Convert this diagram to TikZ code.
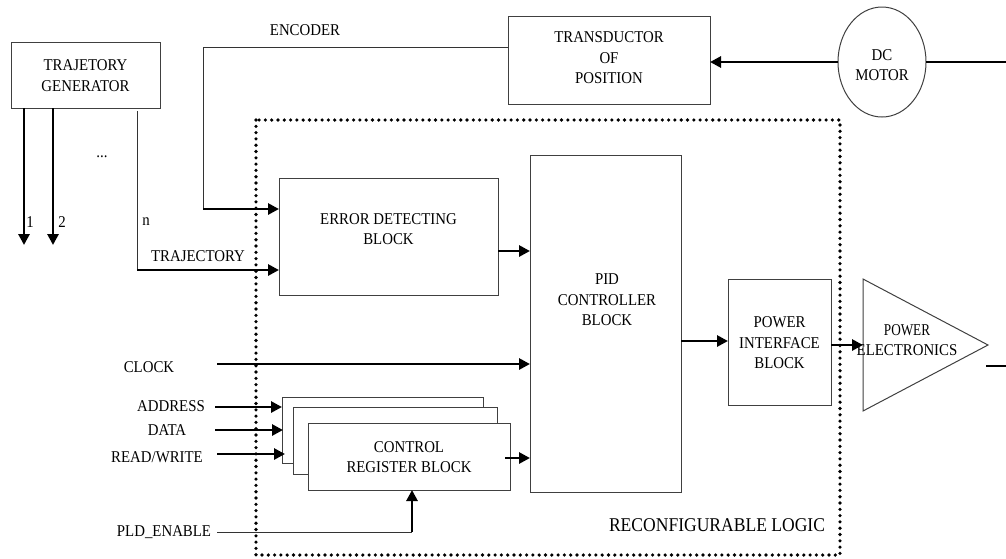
\documentclass[tikz,border=0pt]{standalone}
\usepackage{fontspec}
\setmainfont[FakeStretch=0.9]{Liberation Serif}
\newfontfamily\narrowfont[FakeStretch=0.8]{Liberation Serif}
\usetikzlibrary{arrows.meta}
\begin{document}
\begin{tikzpicture}[x=1pt,y=-1pt,
  every node/.style={font=\fontsize{16.5}{20.5}\selectfont, align=center, inner sep=0pt},
  blk/.style={draw=black!75, line width=1pt, fill=white},
  thin/.style={draw=black!80, line width=0.9pt},
  arr/.style={draw=black, line width=2.8pt, -{Triangle[length=11pt,width=11pt]}},
  thick/.style={draw=black, line width=2.8pt},
  lbl/.style={}
]
\useasboundingbox (0,0) rectangle (1006,558);

% dotted reconfigurable logic region
\draw[line width=3.6pt, line cap=round, dash pattern=on 0pt off 6.3pt] (256,120) rectangle (840,555);
\node[lbl, font=\fontsize{19.5}{22}\selectfont] (reclbl) at (717,525) {RECONFIGURABLE LOGIC};

% trajectory generator
\draw[blk] (11,42) rectangle (160,108);
\node (tg) at (85.5,75.5) {TRAJETORY\\GENERATOR};
\coordinate (tg1) at (24,108);
\coordinate (tg1e) at (24,245);
\coordinate (tg2) at (53,108);
\coordinate (tg2e) at (53,245);
\draw[arr] (tg1) -- (tg1e);
\draw[arr] (tg2) -- (tg2e);
\node (l1) at (30,222) {1};
\node (l2) at (62,222) {2};
\node (dots) at (102,157) {...};
\node (ln) at (146,222) {n};

% transductor
\draw[blk] (508,16) rectangle (710,104);
\node (tr) at (609,58) {\fontsize{16.5}{20}\selectfont TRANSDUCTOR\\OF\\POSITION};
\coordinate (trW) at (508,47);
\coordinate (trE) at (710,62);

% DC motor
\draw[blk] (882,62) ellipse [x radius=44, y radius=55];
\node (dc) at (882,65) {\fontsize{16.5}{17}\selectfont DC\\MOTOR};
\coordinate (dcW) at (838,62);
\coordinate (dcE) at (926,62);
\coordinate (dcR) at (1006,62);
\draw[arr] (dcW) -- (trE);
\draw[thick] (dcE) -- (dcR);

% error detecting block
\draw[blk] (279,178) rectangle (498,295);
\node (err) at (388.5,229) {ERROR DETECTING\\BLOCK};

% encoder path
\coordinate (enc1) at (203,47);
\coordinate (enc2) at (203,209);
\coordinate (errIn1) at (279,209);
\draw[thin] (trW) -- (enc1) -- (enc2);
\draw[arr] (enc2) -- (errIn1);
\node (enclbl) at (305,30) {ENCODER};

% trajectory n path
\coordinate (n1) at (137,111);
\coordinate (n2) at (137,270);
\coordinate (errIn2) at (279,270);
\draw[thin] (n1) -- (n2);
\draw[arr] (n2) -- (errIn2);
\node (trajlbl) at (198,256) {TRAJECTORY};

% PID
\draw[blk] (530,155) rectangle (681,492);
\node (pid) at (607,300) {\fontsize{16.5}{20}\selectfont PID\\CONTROLLER\\BLOCK};
\coordinate (errOut) at (498,251);
\coordinate (pidIn1) at (530,251);
\draw[arr] (errOut) -- (pidIn1);

% power interface
\draw[blk] (728,279) rectangle (831,405);
\node (pib) at (779.5,343) {\fontsize{16.5}{20}\selectfont POWER\\INTERFACE\\BLOCK};
\coordinate (pidOut) at (681,341);
\coordinate (pibIn) at (728,341);
\draw[arr] (pidOut) -- (pibIn);

% power electronics
\draw[blk] (863,279) -- (988,345) -- (863,411) -- cycle;
\node (pe) at (907,340) {\narrowfont\fontsize{16.5}{18}\selectfont POWER\\ELECTRONICS};
\coordinate (pibOut) at (831,345);
\coordinate (peIn) at (863,345);
\draw[arr] (pibOut) -- (peIn);
\coordinate (peo1) at (986,366);
\coordinate (peo2) at (1006,366);
\draw[thick] (peo1) -- (peo2);

% clock
\node (clk) at (149,367) {CLOCK};
\coordinate (clkS) at (217,364);
\coordinate (clkE) at (530,364);
\draw[arr] (clkS) -- (clkE);

% control register stack
\draw[blk] (282,397) rectangle (483,463);
\draw[blk] (293,407) rectangle (497,474);
\draw[blk] (308,423) rectangle (510,490);
\node (crb) at (409,457) {CONTROL\\REGISTER BLOCK};

\node (addr) at (171,406) {ADDRESS};
\node (data) at (167,430) {DATA};
\node (rw) at (157,457) {READ/WRITE};
\coordinate (a1) at (215,407);
\coordinate (a2) at (282,407);
\coordinate (d1) at (215,430);
\coordinate (d2) at (283,430);
\coordinate (r1) at (217,454);
\coordinate (r2) at (285,454);
\draw[arr] (a1) -- (a2);
\draw[arr] (d1) -- (d2);
\draw[arr] (r1) -- (r2);

\coordinate (crbOut) at (505,458);
\coordinate (pidIn3) at (530,458);
\draw[arr] (crbOut) -- (pidIn3);

% PLD enable
\node (pld) at (164,532) {PLD\_ENABLE};
\coordinate (p1) at (217,532);
\coordinate (p2) at (412,532);
\coordinate (p3) at (412,490);
\draw[thin] (p1) -- (p2);
\draw[arr] (p2) -- (p3);
\end{tikzpicture}
\end{document}
